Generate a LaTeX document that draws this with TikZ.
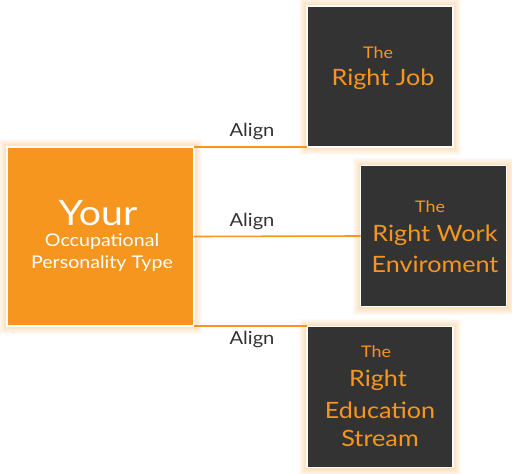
\documentclass[tikz,border=0pt]{standalone}
\usepackage{fontspec}
\setmainfont[FakeStretch=1.12]{Lato}
\usetikzlibrary{backgrounds,calc}
\definecolor{orng}{HTML}{F7961E}
\definecolor{dark}{HTML}{333333}
\definecolor{txt}{HTML}{333333}
\tikzset{
  x=1pt, y=-1pt,
  mainbox/.style={draw=white, line width=1.8pt, fill=orng, inner sep=0pt, outer sep=0pt},
  darkbox/.style={draw=white, line width=1.2pt, fill=dark, inner sep=0pt, outer sep=0pt, minimum width=146pt, minimum height=141pt},
  conn/.style={draw=orng, line width=1.6pt},
  lbl/.style={text=txt, font=\fontsize{18}{21}\selectfont, inner sep=0pt},
  small/.style={text=orng, font=\fontsize{16}{19}\selectfont, inner sep=0pt},
  big/.style={text=orng, font=\fontsize{22.5}{27}\selectfont, inner sep=0pt},
  wsmall/.style={text=white, font=\fontsize{17.5}{21}\selectfont, inner sep=0pt},
  glowring/.style={fill=orng, fill opacity=0.045, draw=none},
}
\newcommand{\glowbox}[1]{%
  \foreach \g in {1,2,...,8}{%
    \fill[glowring] ($(#1.north west)+(-\g,-\g)$) rectangle ($(#1.south east)+(\g,\g)$);
  }%
}
\begin{document}
\begin{tikzpicture}
\useasboundingbox (0,0) rectangle (512,474);
\node[mainbox, minimum width=187pt, minimum height=179pt] (main) at (100.5,236.5) {};
\node[darkbox] (box1) at (380,76.5) {};
\node[darkbox] (box2) at (433.5,236) {};
\node[darkbox] (box3) at (380,397) {};
\begin{scope}[on background layer]
\glowbox{main}
\glowbox{box1}
\glowbox{box2}
\glowbox{box3}
\end{scope}
\draw[conn] (main.north east) -- (main.north east -| box1.west);
\draw[conn] (main.east) -- (box2.west);
\draw[conn] (main.south east) -- (main.south east -| box3.west);
\node[lbl] (a1) at (252,132) {Align};
\node[lbl] (a2) at (252,222) {Align};
\node[lbl] (a3) at (252,340) {Align};
\node[text=white, font=\fontsize{35}{40}\selectfont, inner sep=0pt] (your) at (98,213) {Your};
\node[wsmall] (occ) at (102,242) {Occupational};
\node[wsmall] (pers) at (102,264) {Personality Type};
\node[small] (t1) at (378,53) {The};
\node[big] (r1) at (383,79) {Right Job};
\node[small] (t2) at (430,207) {The};
\node[big] (r2) at (435,235) {Right Work};
\node[big] (e2) at (435,264) {Enviroment};
\node[small] (t3) at (376,352) {The};
\node[big] (r3) at (378,380) {Right};
\node[big] (e3) at (380,410) {Education};
\node[big] (s3) at (380,438) {Stream};
\end{tikzpicture}
\end{document}
